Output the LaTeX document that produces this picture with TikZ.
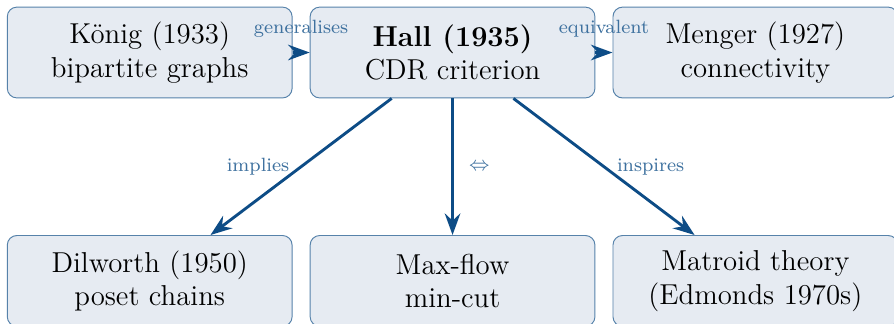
\documentclass[tikz,border=0pt]{standalone}
\usepackage{tikz}
\usetikzlibrary{positioning,arrows.meta}
\definecolor{hallblue}{HTML}{0D4C86}
\definecolor{boxfill}{HTML}{E6EBF2}
\tikzstyle{block} = [rectangle, draw=hallblue!70, fill=boxfill,
	text centered, align=center, rounded corners, minimum width=4.17cm, minimum height=1.33cm, font=\large]
\tikzstyle{link} = [-{Stealth[length=9pt, width=6.5pt, inset=3pt]}, draw=hallblue, line width=1.2pt]
\tikzstyle{lbl} = [font=\footnotesize, text=hallblue!80]

\begin{document}
\begin{tikzpicture}[node distance=0.25cm]
	\useasboundingbox (0,0) rectangle (13.09,-4.73);
	\node (hall) at (6.626,-0.769) [block] {\textbf{Hall (1935)}\\ CDR criterion};
	\node (koenig) [block, left=of hall] {König (1933)\\ bipartite graphs};
	\node (menger) [block, right=of hall] {Menger (1927)\\ connectivity};

	\node (maxflow) [block, below=2cm of hall] {Max-flow\\ min-cut};
	\node (dilworth) [block, left=of maxflow] {Dilworth (1950)\\ poset chains};
	\node (matroid) [block, right=of maxflow] {Matroid theory\\ (Edmonds 1970s)};

	\draw[link] (koenig) -- node[lbl, above=2.5pt] {generalises} (hall);
	\draw[link] (hall) -- node[lbl, above=2.5pt] {equivalent} (menger);
	\draw[link] (hall) -- node[lbl, left=1pt] {implies} (dilworth);
	\draw[link] (hall) -- node[lbl, right=3pt] {$\Leftrightarrow$} (maxflow);
	\draw[link] (hall) -- node[lbl, right=1.5pt] {inspires} (matroid);
\end{tikzpicture}
\end{document}
